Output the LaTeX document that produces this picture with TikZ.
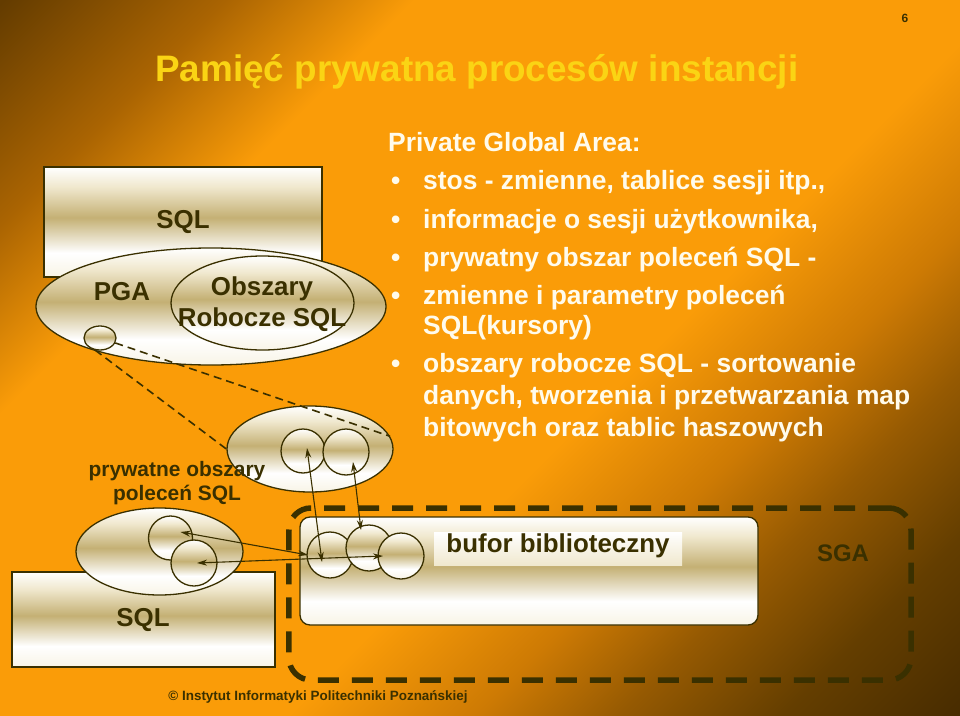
\documentclass[tikz,border=0pt]{standalone}
\usepackage{fontspec}
\setmainfont{Liberation Sans}
\usetikzlibrary{shapes.geometric,arrows.meta,calc}
\definecolor{bgA}{RGB}{100,60,0}
\definecolor{bgT}{RGB}{170,100,2}
\definecolor{bgB}{RGB}{250,156,8}
\definecolor{bgM}{RGB}{205,122,4}
\definecolor{bgN}{RGB}{150,90,2}
\definecolor{bgD}{RGB}{100,62,0}
\definecolor{bgC}{RGB}{72,44,0}
\definecolor{ink}{RGB}{58,48,0}
\definecolor{tanc}{RGB}{196,176,116}
\definecolor{tanl}{RGB}{240,232,206}
\definecolor{creamb}{RGB}{248,244,230}
\definecolor{titley}{RGB}{250,212,20}
\definecolor{cream}{RGB}{255,251,236}
\pgfdeclarehorizontalshading{bgsh}{100bp}{color(0bp)=(bgA); color(14.6bp)=(bgA); color(24bp)=(bgT); color(32bp)=(bgB); color(57bp)=(bgB); color(65bp)=(bgM); color(71bp)=(bgN); color(78bp)=(bgD); color(85.4bp)=(bgC); color(100bp)=(bgC)}
\pgfdeclareverticalshading{goldsh}{100bp}{color(0bp)=(creamb); color(25bp)=(creamb); color(36bp)=(white); color(52bp)=(tanc); color(66bp)=(tanl); color(75bp)=(white); color(100bp)=(white)}
\tikzset{
  shp/.style={draw=ink, line width=1.3bp, shade, shading=goldsh, inner sep=0pt},
  ell/.style={shp, ellipse},
  circ/.style={shp, circle},
  lbl/.style={text=ink, font=\fontsize{26}{31}\selectfont\bfseries, inner sep=0pt, align=center},
  bul/.style={text=cream, anchor=base west, font=\fontsize{26.5}{30}\selectfont\bfseries, inner sep=0pt},
  conn/.style={draw=ink, line width=1.1bp, {Stealth[length=10bp,width=6bp]}-{Stealth[length=10bp,width=6bp]}},
  zoomline/.style={draw=ink, line width=1.6bp, dash pattern=on 8bp off 5bp},
}
\begin{document}
\begin{tikzpicture}[x=1bp,y=-1bp]
\useasboundingbox (0,0) rectangle (960,716);
\shade[shading=bgsh, shading angle=-45] (0,0) rectangle (960,716);

% page number and title
\node[text=ink, font=\fontsize{12}{14}\selectfont\bfseries] (pnum) at (905,18) {6};
\node[anchor=base west, text=titley, font=\fontsize{37}{40}\selectfont\bfseries, inner sep=0pt] (title) at (155,82) {Pamięć prywatna procesów instancji};

% bullet text
\node[bul] (t0) at (388,152) {Private Global Area:};
\foreach \y in {190,228,266,304,372} \node[bul] at (391,\y) {•};
\node[bul] (t1) at (423,190) {stos - zmienne, tablice sesji itp.,};
\node[bul] (t2) at (423,228) {informacje o sesji użytkownika,};
\node[bul] (t3) at (423,266) {prywatny obszar poleceń SQL -};
\node[bul] (t4) at (423,304) {zmienne i parametry poleceń};
\node[bul] (t5) at (423,334) {SQL(kursory)};
\node[bul] (t6) at (423,372) {obszary robocze SQL - sortowanie};
\node[bul] (t7) at (423,404) {danych, tworzenia i przetwarzania map};
\node[bul] (t8) at (423,436) {bitowych oraz tablic haszowych};

% upper process
\node[shp, rectangle, minimum width=278bp, minimum height=110bp] (sqltop) at (183,222) {};
\node[lbl] at (183,222) {SQL};
\node[ell, minimum width=350bp, minimum height=117bp] (pga) at (211,306.5) {};
\node[ell, minimum width=183bp, minimum height=94bp] (wrk) at (262.5,303) {};
\node[lbl] at (122,292) {PGA};
\node[lbl] at (262,304) {Obszary\\Robocze SQL};
\node[ell, minimum width=32bp, minimum height=24bp] (psmall) at (100,338) {};

% zoomed private SQL area
\node[ell, minimum width=166bp, minimum height=86bp] (priv) at (310,449) {};
\draw[zoomline] (psmall.-18) -- (priv.9);
\draw[zoomline] (psmall.-112) -- (priv.west);
\node[circ, minimum size=44bp] (u1) at (303,451) {};
\node[circ, minimum size=46bp] (u2) at (346,452) {};
\node[lbl, font=\fontsize{21}{24}\selectfont\bfseries] at (177,483) {prywatne obszary\\poleceń SQL};

% lower process
\node[shp, rectangle, minimum width=263bp, minimum height=95bp] (sqlbot) at (143.5,619.5) {};
\node[lbl] at (143,620) {SQL};
\node[ell, minimum width=167bp, minimum height=87bp] (lpriv) at (159.5,551.5) {};
\node[circ, minimum size=44bp] (l1) at (170.5,538) {};
\node[circ, minimum size=46bp] (l2) at (194,563) {};

% SGA
\node[draw=ink, line width=5.5bp, dash pattern=on 21bp off 13bp, rounded corners=22bp, minimum width=622bp, minimum height=172bp, inner sep=0pt] (sga) at (600,594) {};
\node[lbl, font=\fontsize{24}{28}\selectfont\bfseries] at (843,553) {SGA};
\node[shp, rectangle, rounded corners=10bp, minimum width=458bp, minimum height=108bp] (buf) at (529,571) {};
\node[top color=white, bottom color=tanl, minimum width=248bp, minimum height=33bp, inner sep=0pt] (buflbl) at (558,548.5) {};
\node[lbl] at (558,546) {bufor biblioteczny};
\node[circ, minimum size=46bp] (c1) at (330,555) {};
\node[circ, minimum size=46bp] (c2) at (369,548) {};
\node[circ, minimum size=46bp] (c3) at (401,556) {};

% connectors
\draw[conn] ($(u1)+(4,-3)$) -- ($(c1)+(-8,7)$);
\draw[conn] ($(u2)+(7,10)$) -- ($(c2)+(-8,-18)$);
\draw[conn] ($(l1)+(10,-6)$) -- ($(c1)+(-22,0)$);
\draw[conn] ($(l2)+(3,0)$) -- ($(c3)+(-18,0)$);

% footer
\node[text=ink, font=\fontsize{13.5}{16}\selectfont\bfseries] (copy) at (318,697) {© Instytut Informatyki Politechniki Poznańskiej};
\end{tikzpicture}
\end{document}
